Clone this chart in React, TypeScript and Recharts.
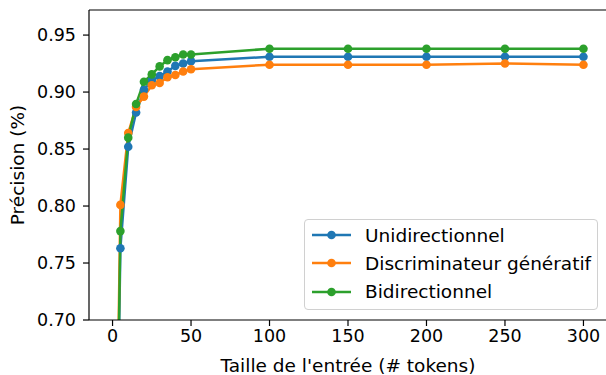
import React from 'react';
import { LineChart, Line, XAxis, YAxis, ReferenceLine } from 'recharts';

const tokens = [0, 5, 10, 15, 20, 25, 30, 35, 40, 45, 50, 100, 150, 200, 250, 300];
const unidirectionnel = [0.33, 0.763, 0.852, 0.882, 0.902, 0.91, 0.914, 0.918, 0.923, 0.925, 0.927, 0.931, 0.931, 0.931, 0.931, 0.931];
const discriminateur = [0.33, 0.801, 0.864, 0.887, 0.896, 0.906, 0.908, 0.913, 0.915, 0.918, 0.92, 0.924, 0.924, 0.924, 0.925, 0.924];
const bidirectionnel = [0.33, 0.778, 0.86, 0.8895, 0.909, 0.9155, 0.9225, 0.928, 0.9305, 0.933, 0.933, 0.938, 0.938, 0.938, 0.938, 0.938];
const xTicks = [0, 50, 100, 150, 200, 250, 300];
const yTicks = [0.7, 0.75, 0.8, 0.85, 0.9, 0.95];
const yTop = 0.972;

const seriesNames = ['Unidirectionnel', 'Discriminateur génératif', 'Bidirectionnel'];
const seriesColors = ['#1f77b4', '#ff7f0e', '#2ca02c'];

const data = tokens.map((t, i) => ({
  t,
  u: unidirectionnel[i],
  d: discriminateur[i],
  b: bidirectionnel[i],
}));

const FONT = 'DejaVu Sans';

const LegendBox = () => (
  <div
    style={{
      position: 'absolute',
      left: 304,
      top: 219,
      boxSizing: 'border-box',
      width: 294,
      height: 91,
      border: '1px solid #d0d0d0',
      borderRadius: 4,
      background: 'rgba(255,255,255,0.8)',
      fontFamily: FONT,
      fontSize: 18.5,
      color: '#000',
      paddingTop: 1,
    }}
  >
    {seriesNames.map((n, i) => (
      <div key={n} style={{ height: 28.3, display: 'flex', alignItems: 'center', whiteSpace: 'nowrap' }}>
        <svg width={53} height={12} style={{ marginLeft: 7, flex: 'none' }}>
          <line x1={0} y1={6} x2={39} y2={6} stroke={seriesColors[i]} strokeWidth={2.5} />
          <circle cx={19.5} cy={6} r={4.3} fill={seriesColors[i]} />
        </svg>
        <span>{n}</span>
      </div>
    ))}
  </div>
);

export default function App() {
  return (
    <div style={{ position: 'absolute', left: 0, top: 0, width: 606, height: 375, overflow: 'hidden', background: '#fff' }}>
      <LineChart width={610} height={375} data={data} margin={{ top: 10, right: 3, left: 0, bottom: 0 }}>
        <XAxis
          dataKey="t"
          type="number"
          domain={[-15, 315]}
          ticks={xTicks}
          allowDataOverflow
          height={55}
          tickSize={6}
          tickMargin={4}
          stroke="#000"
          tick={{ fill: '#000', fontSize: 17.5, fontFamily: FONT }}
          tickLine={{ stroke: '#000', strokeWidth: 1.2 }}
          axisLine={{ stroke: '#000', strokeWidth: 1.2 }}
          label={{
            content: () => (
              <text x={348} y={365} textAnchor="middle" dominantBaseline="central" fontSize={18.5} fontFamily={FONT} fill="#000">
                Taille de l'entrée (# tokens)
              </text>
            ),
          }}
        />
        <YAxis
          type="number"
          domain={[0.7, yTop]}
          ticks={yTicks}
          allowDataOverflow
          width={89}
          tickSize={6}
          tickMargin={7}
          tickFormatter={(v: number) => v.toFixed(2)}
          tick={{ fill: '#000', fontSize: 17.5, fontFamily: FONT }}
          tickLine={{ stroke: '#000', strokeWidth: 1.2 }}
          axisLine={{ stroke: '#000', strokeWidth: 1.2 }}
          label={{
            content: () => (
              <text
                x={17}
                y={165}
                textAnchor="middle"
                dominantBaseline="central"
                fontSize={18.5}
                fontFamily={FONT}
                fill="#000"
                transform="rotate(-90 17 165)"
              >
                Précision (%)
              </text>
            ),
          }}
        />
        <ReferenceLine y={yTop} stroke="#000" strokeWidth={1.2} ifOverflow="visible" />
        <Line dataKey="u" name={seriesNames[0]} stroke={seriesColors[0]} strokeWidth={2.5} dot={{ r: 4.3, fill: seriesColors[0], stroke: 'none' }} activeDot={false} isAnimationActive={false} />
        <Line dataKey="d" name={seriesNames[1]} stroke={seriesColors[1]} strokeWidth={2.5} dot={{ r: 4.3, fill: seriesColors[1], stroke: 'none' }} activeDot={false} isAnimationActive={false} />
        <Line dataKey="b" name={seriesNames[2]} stroke={seriesColors[2]} strokeWidth={2.5} dot={{ r: 4.3, fill: seriesColors[2], stroke: 'none' }} activeDot={false} isAnimationActive={false} />
      </LineChart>
      <LegendBox />
    </div>
  );
}
